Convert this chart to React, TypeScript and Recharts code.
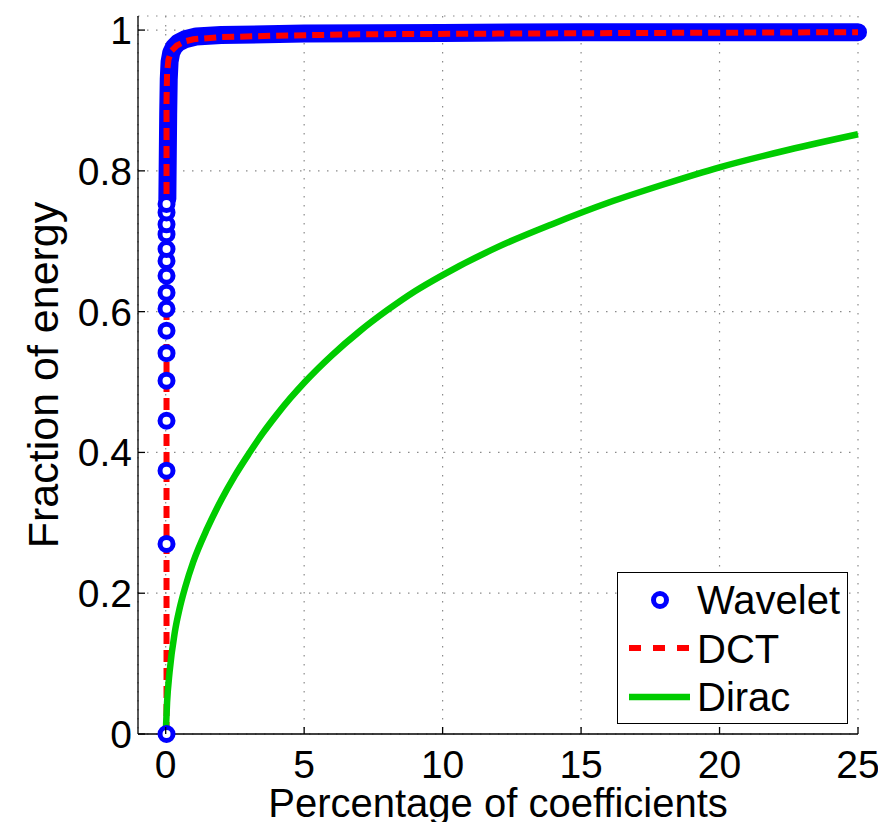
import React from 'react';
import { LineChart, Line, XAxis, YAxis, CartesianGrid, Legend } from 'recharts';

// ---- Data ----
const xTicks = [0, 5, 10, 15, 20, 25];
const yTicks = [0, 0.2, 0.4, 0.6, 0.8, 1];

// Wavelet: discrete circle markers near x = 0
const waveletCircleX = [0.03, 0.03, 0.03, 0.03, 0.03, 0.03, 0.03, 0.03, 0.03, 0.03, 0.03, 0.03, 0.03, 0.03, 0.03, 0.03];
const waveletCircleY = [0, 0.27, 0.374, 0.445, 0.502, 0.541, 0.573, 0.604, 0.627, 0.651, 0.672, 0.689, 0.71, 0.724, 0.741, 0.753];
// Wavelet: densely packed markers (appear as a solid band)
const waveletBandX = [0.06, 0.09, 0.11, 0.14, 0.2, 0.3, 0.45, 0.7, 1.1, 2, 5, 10, 15, 20, 25];
const waveletBandY = [0.76, 0.88, 0.93, 0.955, 0.968, 0.976, 0.982, 0.987, 0.991, 0.993, 0.995, 0.996, 0.997, 0.997, 0.997];

const dctX = [0.03, 0.03, 0.05, 0.1, 0.2, 0.4, 0.7, 1, 2, 4, 7, 12, 18, 25];
const dctY = [0, 0.9, 0.94, 0.958, 0.97, 0.978, 0.984, 0.987, 0.99, 0.992, 0.994, 0.995, 0.996, 0.997];

const diracX = [0, 0.05, 0.14, 0.33, 0.5, 0.7, 1.0, 1.5, 2.0, 2.5, 3.0, 3.5, 4.0, 4.5, 5, 6, 7, 8, 9, 10, 12, 14, 16, 18, 20, 22.5, 25];
const diracY = [0, 0.045, 0.088, 0.145, 0.178, 0.208, 0.245, 0.292, 0.332, 0.367, 0.398, 0.427, 0.453, 0.477, 0.499, 0.538, 0.572, 0.602, 0.629, 0.652, 0.692, 0.725, 0.755, 0.781, 0.805, 0.83, 0.852];

const seriesNames = ['Wavelet', 'DCT', 'Dirac'];
const xLabel = 'Percentage of coefficients';
const yLabel = 'Fraction of energy';

const zip = (xs: number[], ys: number[]) => xs.map((x, i) => ({ x, y: ys[i] }));
const waveletCircles = zip(waveletCircleX, waveletCircleY);
const waveletBand = zip(waveletBandX, waveletBandY);
const dctData = zip(dctX, dctY);
const diracData = zip(diracX, diracY);

const FONT = '"Liberation Sans", Arial, Helvetica, sans-serif';
const BLUE = '#0000ff';
const RED = '#ff0000';
const GREEN = '#00cc00';
const TICK = 7;
const TICK_FS = 39;

const BottomTick = (p: any) => (
  <g>
    <line x1={p.x} x2={p.x} y1={p.y} y2={p.y - TICK} stroke="#000" strokeWidth={1.3} />
    <text x={p.x} y={p.y + 44} textAnchor="middle" fontSize={TICK_FS} fontFamily={FONT} fill="#000">
      {String(p.payload.value)}
    </text>
  </g>
);
const TopTick = (p: any) => (
  <line x1={p.x} x2={p.x} y1={p.y} y2={p.y + TICK} stroke="#000" strokeWidth={1.3} />
);
const LeftTick = (p: any) => (
  <g>
    <line x1={p.x} x2={p.x + TICK} y1={p.y} y2={p.y} stroke="#000" strokeWidth={1.3} />
    <text x={p.x - 6} y={p.y} dy="0.36em" textAnchor="end" fontSize={TICK_FS} fontFamily={FONT} fill="#000">
      {String(p.payload.value)}
    </text>
  </g>
);
const RightTick = (p: any) => (
  <line x1={p.x} x2={p.x - TICK} y1={p.y} y2={p.y} stroke="#000" strokeWidth={1.3} />
);

const XLabel = (props: any) => {
  const vb = props.viewBox;
  return (
    <text x={vb.x + vb.width / 2} y={vb.y + 83} textAnchor="middle" fontSize={40} fontFamily={FONT} fill="#000">
      {xLabel}
    </text>
  );
};
const YLabel = (props: any) => {
  const vb = props.viewBox;
  const cx = 35;
  const cy = vb.y + vb.height / 2;
  return (
    <text
      x={cx}
      y={cy}
      dy="0.36em"
      textAnchor="middle"
      fontSize={43}
      fontFamily={FONT}
      fill="#000"
      transform={`rotate(-90 ${cx} ${cy})`}
    >
      {yLabel}
    </text>
  );
};

const LegendBox = () => (
  <div
    style={{
      width: 231,
      height: 152,
      boxSizing: 'border-box',
      border: '1.3px solid #000',
      background: '#fff',
    }}
  >
    <svg width={229} height={150} style={{ display: 'block' }}>
      <circle cx={42} cy={27} r={6.5} fill="#fff" stroke={BLUE} strokeWidth={5} />
      <line x1={11} x2={72} y1={75} y2={75} stroke={RED} strokeWidth={6} strokeDasharray="12 12" />
      <line x1={11} x2={72} y1={124} y2={124} stroke={GREEN} strokeWidth={6.5} />
      {seriesNames.map((n, i) => (
        <text key={n} x={79} y={27 + i * 48.5} dy="0.36em" fontSize={40} fontFamily={FONT} fill="#000">
          {n}
        </text>
      ))}
    </svg>
  </div>
);

export default function App() {
  return (
    <div style={{ width: 878, height: 814 }}>
      <LineChart width={878} height={814} margin={{ top: 8, right: 28, bottom: 0, left: 0 }}>
        <CartesianGrid stroke="#8a8a8a" strokeDasharray="1.5 7.5" strokeWidth={1.2} />
        <XAxis
          type="number"
          dataKey="x"
          domain={[-1, 25]}
          ticks={xTicks}
          interval={0}
          height={88}
          tickSize={0}
          tickMargin={0}
          tickLine={false}
          axisLine={{ stroke: '#000', strokeWidth: 1.3 }}
          tick={BottomTick}
          label={XLabel}
        />
        <XAxis
          xAxisId="top"
          orientation="top"
          type="number"
          dataKey="x"
          domain={[-1, 25]}
          ticks={xTicks}
          interval={0}
          height={0}
          tickSize={0}
          tickMargin={0}
          tickLine={false}
          axisLine={{ stroke: '#000', strokeWidth: 1.3 }}
          tick={TopTick}
        />
        <YAxis
          type="number"
          domain={[0, 1.02]}
          ticks={yTicks}
          interval={0}
          width={130}
          tickSize={0}
          tickMargin={0}
          tickLine={false}
          axisLine={{ stroke: '#000', strokeWidth: 1.3 }}
          tick={LeftTick}
          label={YLabel}
        />
        <YAxis
          yAxisId="right"
          orientation="right"
          type="number"
          domain={[0, 1.02]}
          ticks={yTicks}
          interval={0}
          width={0}
          tickSize={0}
          tickMargin={0}
          tickLine={false}
          axisLine={{ stroke: '#000', strokeWidth: 1.3 }}
          tick={RightTick}
        />
        <Line
          data={waveletBand}
          dataKey="y"
          type="linear"
          stroke={BLUE}
          strokeWidth={18}
          strokeLinecap="round"
          strokeLinejoin="round"
          dot={false}
          legendType="none"
          isAnimationActive={false}
        />
        <Line
          data={waveletCircles}
          dataKey="y"
          name="Wavelet"
          stroke="none"
          dot={{ r: 6.5, fill: '#fff', stroke: BLUE, strokeWidth: 5 }}
          isAnimationActive={false}
        />
        <Line
          data={dctData}
          dataKey="y"
          name="DCT"
          type="linear"
          stroke={RED}
          strokeWidth={6}
          strokeDasharray="12 6"
          strokeLinecap="butt"
          dot={false}
          isAnimationActive={false}
        />
        <Line
          data={diracData}
          dataKey="y"
          name="Dirac"
          type="monotone"
          stroke={GREEN}
          strokeWidth={6.5}
          dot={false}
          isAnimationActive={false}
        />
        <Legend
          layout="vertical"
          align="center"
          verticalAlign="middle"
          wrapperStyle={{ left: 609, top: 564, width: 231, height: 152 }}
          content={LegendBox}
        />
      </LineChart>
    </div>
  );
}
